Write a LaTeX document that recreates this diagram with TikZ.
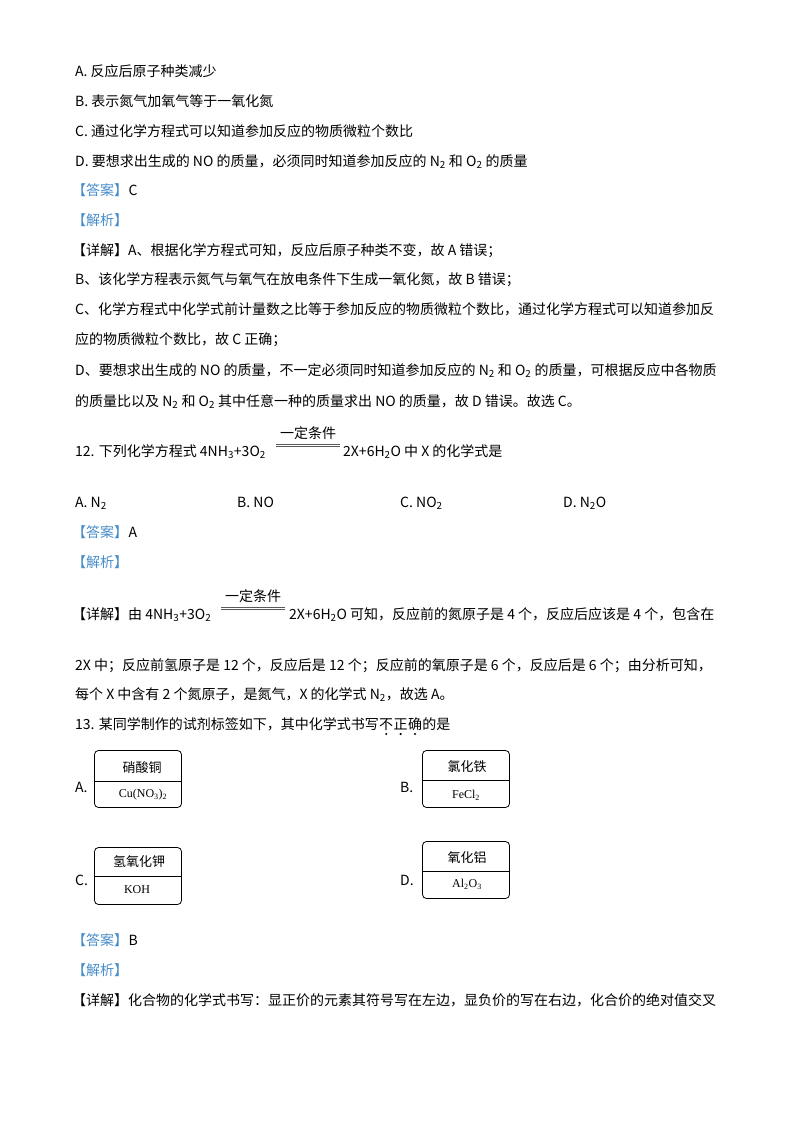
\documentclass[tikz,border=0pt]{standalone}
\usepackage{fontspec}
\setmainfont{Noto Sans CJK SC}
\newfontfamily\serifen{Liberation Serif}
\usetikzlibrary{calc}
\definecolor{tagblue}{RGB}{70,140,200}
\newcommand\sub[1]{\textsubscript{#1}}
\tikzset{
  line/.style = {anchor=base west, inner sep=0pt, font=\fontsize{14}{16}\selectfont},
  tag/.style = {line, text=tagblue},
  label box/.style = {draw, rounded corners=4pt, line width=0.8pt, minimum width=87pt, minimum height=57pt},
  box name/.style = {inner sep=0pt, font=\fontsize{13}{15}\selectfont},
  box formula/.style = {inner sep=0pt, font=\serifen\fontsize{12}{14}\selectfont},
  eq sign/.style = {line width=0.6pt, gray!70!black}
}
\begin{document}
\begin{tikzpicture}[x=1pt, y=-1pt]
\useasboundingbox (0,0) rectangle (800,1132);
% question 11 options
\node[line] (qa) at (75,77) {A. 反应后原子种类减少};
\node[line] (qb) at (75,106) {B. 表示氮气加氧气等于一氧化氮};
\node[line] (qc) at (75,136) {C. 通过化学方程式可以知道参加反应的物质微粒个数比};
\node[line] (qd) at (75,166) {D. 要想求出生成的 NO 的质量，必须同时知道参加反应的 N\sub{2} 和 O\sub{2} 的质量};
\node[tag] (ans11) at (72,195) {【答案】};
\node[line] (ans11v) at (ans11.base east) {C};
\node[tag] (jx11) at (72,225) {【解析】};
\node[line] (d1) at (72,255) {【详解】A、根据化学方程式可知，反应后原子种类不变，故 A 错误；};
\node[line] (d2) at (75,284) {B、该化学方程表示氮气与氧气在放电条件下生成一氧化氮，故 B 错误；};
\node[line] (d3) at (75,314) {C、化学方程式中化学式前计量数之比等于参加反应的物质微粒个数比，通过化学方程式可以知道参加反};
\node[line] (d4) at (75,344) {应的物质微粒个数比，故 C 正确；};
\node[line] (d5) at (75,375) {D、要想求出生成的 NO 的质量，不一定必须同时知道参加反应的 N\sub{2} 和 O\sub{2} 的质量，可根据反应中各物质};
\node[line] (d6) at (75,406) {的质量比以及 N\sub{2} 和 O\sub{2} 其中任意一种的质量求出 NO 的质量，故 D 错误。故选 C。};
% question 12
\node[line] (q12a) at (75,456) {12. 下列化学方程式 4NH\sub{3}+3O\sub{2}};
\coordinate (eq1l) at (276,444);
\coordinate (eq1r) at (340,444);
\draw[eq sign] (eq1l) -- (eq1r);
\draw[eq sign] ([yshift=-2.2pt]eq1l) -- ([yshift=-2.2pt]eq1r);
\node[inner sep=0pt, font=\fontsize{14}{16}\selectfont, anchor=south] (cond1) at ([yshift=4pt]$(eq1l)!0.5!(eq1r)$) {一定条件};
\node[line] (q12b) at (343,456) {2X+6H\sub{2}O 中 X 的化学式是};
\node[line] (o12a) at (75,507) {A. N\sub{2}};
\node[line] (o12b) at (237,507) {B. NO};
\node[line] (o12c) at (400,507) {C. NO\sub{2}};
\node[line] (o12d) at (563,507) {D. N\sub{2}O};
\node[tag] (ans12) at (72,537) {【答案】};
\node[line] (ans12v) at (ans12.base east) {A};
\node[tag] (jx12) at (72,567) {【解析】};
\node[line] (e1a) at (72,619) {【详解】由 4NH\sub{3}+3O\sub{2}};
\coordinate (eq2l) at (221,607);
\coordinate (eq2r) at (285,607);
\draw[eq sign] (eq2l) -- (eq2r);
\draw[eq sign] ([yshift=-2.2pt]eq2l) -- ([yshift=-2.2pt]eq2r);
\node[inner sep=0pt, font=\fontsize{14}{16}\selectfont, anchor=south] (cond2) at ([yshift=4pt]$(eq2l)!0.5!(eq2r)$) {一定条件};
\node[line] (e1b) at (289,619) {2X+6H\sub{2}O 可知，反应前的氮原子是 4 个，反应后应该是 4 个，包含在};
\node[line] (e2) at (75,670) {2X 中；反应前氢原子是 12 个，反应后是 12 个；反应前的氧原子是 6 个，反应后是 6 个；由分析可知，};
\node[line] (e3) at (75,699) {每个 X 中含有 2 个氮原子，是氮气，X 的化学式 N\sub{2}，故选 A。};
% question 13
\node[line] (q13) at (75,729) {13. 某同学制作的试剂标签如下，其中化学式书写};
\node[line] (em1) at (q13.base east) {不};
\node[line] (em2) at (em1.base east) {正};
\node[line] (em3) at (em2.base east) {确};
\node[line] (q13b) at (em3.base east) {的是};
\foreach \e in {em1,em2,em3}
  \fill ([yshift=-5pt]\e.base) circle (1.2pt);
\node[line] (la) at (75,792) {A.};
\node[label box] (ba) at (138,779) {};
\draw (ba.west |- 0,781) -- (ba.east |- 0,781);
\node[box name] at (142,768) {硝酸铜};
\node[box formula] at (143,795) {Cu(NO\sub{3})\sub{2}};
\node[line] (lb) at (400,792) {B.};
\node[label box] (bb) at (466,779) {};
\draw (bb.west |- 0,780) -- (bb.east |- 0,780);
\node[box name] at (467,767) {氯化铁};
\node[box formula] at (466,795) {FeCl\sub{2}};
\node[line] (lc) at (75,885) {C.};
\node[label box] (bc) at (138,876) {};
\draw (bc.west |- 0,876) -- (bc.east |- 0,876);
\node[box name] at (139,862) {氢氧化钾};
\node[box formula] at (137,890) {KOH};
\node[line] (ld) at (400,885) {D.};
\node[label box] (bd) at (466,870) {};
\draw (bd.west |- 0,871) -- (bd.east |- 0,871);
\node[box name] at (467,858) {氧化铝};
\node[box formula] at (467,884) {Al\sub{2}O\sub{3}};
\node[tag] (ans13) at (72,945) {【答案】};
\node[line] (ans13v) at (ans13.base east) {B};
\node[tag] (jx13) at (72,975) {【解析】};
\node[line] (f1) at (72,1005) {【详解】化合物的化学式书写：显正价的元素其符号写在左边，显负价的写在右边，化合价的绝对值交叉};
\end{tikzpicture}
\end{document}
